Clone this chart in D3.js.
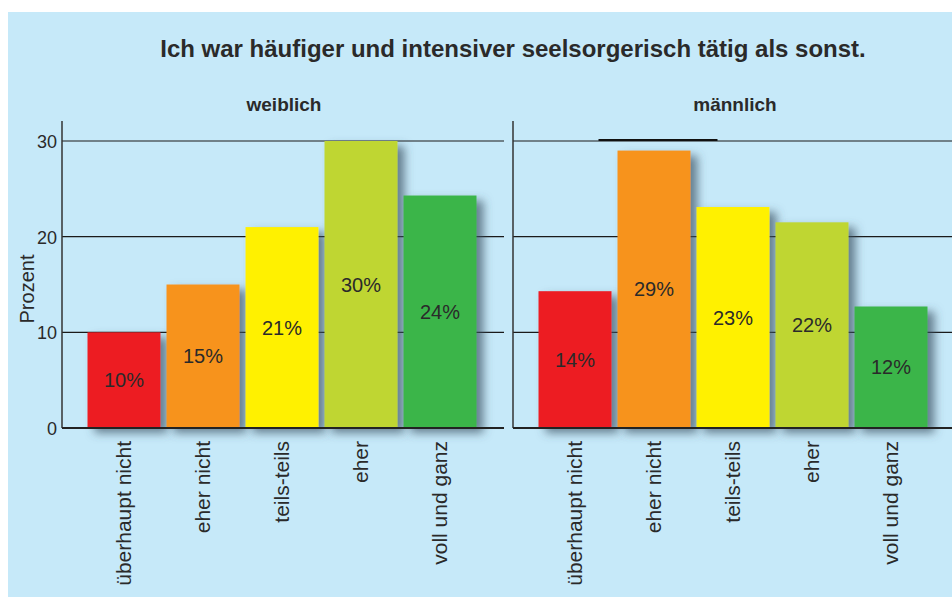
<!DOCTYPE html>
<html>
<head>
<meta charset="utf-8">
<script src="https://cdn.jsdelivr.net/npm/d3@7"></script>
<style>
	body { margin: 0; background: #fff; }
	svg { display: block; }
	text { font-family: 'Liberation Sans', Arial, sans-serif; fill: #2a2a2a; }
</style>
</head>
<body>
<div id="graphic"></div>
<script>
// answer categories, same for both panels
var categories = ['überhaupt nicht', 'eher nicht', 'teils-teils', 'eher', 'voll und ganz'];
var colours = ['#ED1C24', '#F7931E', '#FFF100', '#BFD630', '#3AB54A'];

var valuesWeiblich = [10, 15, 21, 30, 24.3];
var labelsWeiblich = ['10%', '15%', '21%', '30%', '24%'];
var valuesMaennlich = [14.3, 29, 23.1, 21.5, 12.7];
var labelsMaennlich = ['14%', '29%', '23%', '22%', '12%'];

var yTicks = [0, 10, 20, 30];

var panels = [
	{ name: 'weiblich', values: valuesWeiblich, labels: labelsWeiblich, ox: 62, right: 504 },
	{ name: 'männlich', values: valuesMaennlich, labels: labelsMaennlich, ox: 513, right: 952 }
];

var width = 952, height = 599;

var svg = d3.select('#graphic')
	.append('svg')
	.attr('width', width)
	.attr('height', height);

var defs = svg.append('defs');
var f = defs.append('filter').attr('id', 'shadow')
	.attr('x', '-20%').attr('y', '-20%').attr('width', '160%').attr('height', '160%');
f.append('feDropShadow')
	.attr('dx', 7).attr('dy', 5)
	.attr('stdDeviation', 5)
	.attr('flood-color', '#3c5262')
	.attr('flood-opacity', 0.7);

// background panel
svg.append('rect')
	.attr('x', 8).attr('y', 12)
	.attr('width', width - 8).attr('height', 585)
	.attr('fill', '#C6E9F9');

svg.append('text')
	.attr('x', 513).attr('y', 57)
	.attr('text-anchor', 'middle')
	.style('font-size', '24px')
	.style('font-weight', 'bold')
	.attr('fill', '#1e1e1e')
	.text('Ich war häufiger und intensiver seelsorgerisch tätig als sonst.');

var y = d3.scaleLinear().domain([0, 30]).range([428, 141]);

panels.forEach(function (p, i) {
	var g = svg.append('g');

	var x = d3.scaleBand()
		.domain(categories)
		.range([p.ox + 22.5, p.ox + 22.5 + 395])
		.paddingInner(0.076)
		.paddingOuter(0.038);

	// gridlines
	g.selectAll('line.grid')
		.data(yTicks.slice(1))
		.join('line')
		.attr('class', 'grid')
		.attr('x1', p.ox).attr('x2', p.right)
		.attr('y1', (d) => y(d)).attr('y2', (d) => y(d))
		.attr('stroke', '#1a1a1a')
		.attr('stroke-width', 1.2);

	// odd thick stroke above the tallest bar in the right panel
	if (i == 1) {
		g.append('line')
			.attr('x1', x('eher nicht') - 19).attr('x2', x('eher nicht') + x.bandwidth() + 27)
			.attr('y1', y(30) - 1).attr('y2', y(30) - 1)
			.attr('stroke', '#111')
			.attr('stroke-width', 2);
	}

	// bars
	g.selectAll('rect.bar')
		.data(p.values)
		.join('rect')
		.attr('class', 'bar')
		.attr('x', (d, j) => x(categories[j]))
		.attr('y', (d) => y(d))
		.attr('width', x.bandwidth())
		.attr('height', (d) => y(0) - y(d))
		.attr('fill', (d, j) => colours[j])
		.attr('filter', 'url(#shadow)');

	// value labels
	g.selectAll('text.val')
		.data(p.values)
		.join('text')
		.attr('class', 'val')
		.attr('x', (d, j) => x(categories[j]) + x.bandwidth() / 2)
		.attr('y', (d) => (y(d) + y(0)) / 2 + 7)
		.attr('text-anchor', 'middle')
		.style('font-size', '20px')
		.text((d, j) => p.labels[j]);

	// axes lines
	g.append('line')
		.attr('x1', p.ox).attr('x2', p.ox)
		.attr('y1', 121).attr('y2', y(0))
		.attr('stroke', '#333').attr('stroke-width', 1.5);
	g.append('line')
		.attr('x1', p.ox).attr('x2', p.right)
		.attr('y1', y(0)).attr('y2', y(0))
		.attr('stroke', '#222').attr('stroke-width', 1.8);

	// category labels
	g.selectAll('text.cat')
		.data(categories)
		.join('text')
		.attr('class', 'cat')
		.attr('transform', (d) => 'translate(' + (x(d) + x.bandwidth() / 2 + 7) + ',441) rotate(-90)')
		.attr('text-anchor', 'end')
		.style('font-size', '21px')
		.text((d) => d);

	// panel header
	g.append('text')
		.attr('x', (p.ox + 22.5 + p.ox + 22.5 + 395) / 2 + 2)
		.attr('y', 111)
		.attr('text-anchor', 'middle')
		.style('font-size', '19px')
		.style('font-weight', 'bold')
		.text(p.name);
});

// y tick labels, left panel only
svg.selectAll('text.ytick')
	.data(yTicks)
	.join('text')
	.attr('class', 'ytick')
	.attr('x', 57)
	.attr('y', (d) => y(d) + 7)
	.attr('text-anchor', 'end')
	.style('font-size', '18px')
	.text((d) => d);

svg.append('text')
	.attr('transform', 'translate(34,' + 289 + ') rotate(-90)')
	.attr('text-anchor', 'middle')
	.style('font-size', '20px')
	.text('Prozent');
</script>
</body>
</html>
